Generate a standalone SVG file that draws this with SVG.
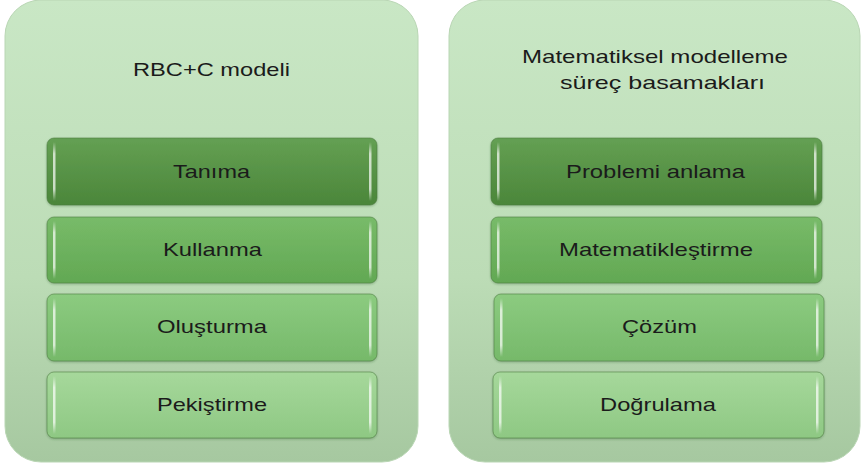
<svg xmlns="http://www.w3.org/2000/svg" width="861" height="468" viewBox="0 0 861 468">
  <defs>
    <linearGradient id="panelFill" x1="0" y1="0" x2="0" y2="1">
      <stop offset="0" stop-color="#c9e7c5"/>
      <stop offset="0.6" stop-color="#bcdcb6"/>
      <stop offset="1" stop-color="#a6c8a0"/>
    </linearGradient>
    <linearGradient id="step1" x1="0" y1="0" x2="0" y2="1">
      <stop offset="0" stop-color="#64a053"/>
      <stop offset="1" stop-color="#4b863a"/>
    </linearGradient>
    <linearGradient id="step2" x1="0" y1="0" x2="0" y2="1">
      <stop offset="0" stop-color="#78bb69"/>
      <stop offset="1" stop-color="#62a853"/>
    </linearGradient>
    <linearGradient id="step3" x1="0" y1="0" x2="0" y2="1">
      <stop offset="0" stop-color="#8ccb80"/>
      <stop offset="1" stop-color="#76b96a"/>
    </linearGradient>
    <linearGradient id="step4" x1="0" y1="0" x2="0" y2="1">
      <stop offset="0" stop-color="#a6d89b"/>
      <stop offset="1" stop-color="#8ec883"/>
    </linearGradient>
    <linearGradient id="shine" x1="0" y1="0" x2="0" y2="1">
      <stop offset="0" stop-color="#ffffff" stop-opacity="0"/>
      <stop offset="0.2" stop-color="#ffffff" stop-opacity="0.7"/>
      <stop offset="0.8" stop-color="#ffffff" stop-opacity="0.7"/>
      <stop offset="1" stop-color="#ffffff" stop-opacity="0"/>
    </linearGradient>
    <filter id="soft" x="-5%" y="-5%" width="110%" height="115%">
      <feDropShadow dx="0" dy="1" stdDeviation="1" flood-color="#2f5a28" flood-opacity="0.35"/>
    </filter>
  </defs>
  <style>
    .panel { fill: url(#panelFill); stroke: #b9d6b4; stroke-width: 1; }
    .step { stroke: #4a7a3e; stroke-opacity: 0.55; stroke-width: 1; filter: url(#soft); }
    .shine { fill: url(#shine); }
    .title, .label { font-family: "Liberation Sans", Arial, sans-serif; fill: #1b1b1b; text-anchor: middle; font-size: 19px; }
  </style>

  <!-- Left column: RBC+C model -->
  <g id="panel-rbcc">
    <rect class="panel" x="5" y="0" width="413" height="462" rx="36"/>
    <text class="title" x="211.5" y="76" textLength="157" lengthAdjust="spacingAndGlyphs">RBC+C modeli</text>
  </g>
  <g id="tanima">
    <rect class="step" x="47" y="138" width="330" height="67" rx="7" fill="url(#step1)"/>
    <rect class="shine" x="53" y="142" width="2.5" height="59"/>
    <rect class="shine" x="369" y="142" width="2.5" height="59"/>
    <text class="label" x="211.5" y="178" textLength="77" lengthAdjust="spacingAndGlyphs">Tanıma</text>
  </g>
  <g id="kullanma">
    <rect class="step" x="47" y="217" width="330" height="66" rx="7" fill="url(#step2)"/>
    <rect class="shine" x="53" y="221" width="2.5" height="58"/>
    <rect class="shine" x="369" y="221" width="2.5" height="58"/>
    <text class="label" x="212.5" y="256" textLength="99" lengthAdjust="spacingAndGlyphs">Kullanma</text>
  </g>
  <g id="olusturma">
    <rect class="step" x="47" y="294" width="330" height="67" rx="7" fill="url(#step3)"/>
    <rect class="shine" x="53" y="298" width="2.5" height="59"/>
    <rect class="shine" x="369" y="298" width="2.5" height="59"/>
    <text class="label" x="212" y="333" textLength="110" lengthAdjust="spacingAndGlyphs">Oluşturma</text>
  </g>
  <g id="pekistirme">
    <rect class="step" x="47" y="372" width="330" height="66" rx="7" fill="url(#step4)"/>
    <rect class="shine" x="53" y="376" width="2.5" height="58"/>
    <rect class="shine" x="369" y="376" width="2.5" height="58"/>
    <text class="label" x="212" y="411" textLength="110" lengthAdjust="spacingAndGlyphs">Pekiştirme</text>
  </g>

  <!-- Right column: mathematical modelling process steps -->
  <g id="panel-modelleme">
    <rect class="panel" x="449" y="0" width="411" height="462" rx="36"/>
    <text class="title" x="655" y="63" textLength="266" lengthAdjust="spacingAndGlyphs">Matematiksel modelleme</text>
    <text class="title" x="662.5" y="89" textLength="205" lengthAdjust="spacingAndGlyphs">süreç basamakları</text>
  </g>
  <g id="problemi-anlama">
    <rect class="step" x="491" y="138" width="331" height="67" rx="7" fill="url(#step1)"/>
    <rect class="shine" x="497" y="142" width="2.5" height="59"/>
    <rect class="shine" x="814" y="142" width="2.5" height="59"/>
    <text class="label" x="655.5" y="178" textLength="179" lengthAdjust="spacingAndGlyphs">Problemi anlama</text>
  </g>
  <g id="matematiklestirme">
    <rect class="step" x="491" y="217" width="331" height="66" rx="7" fill="url(#step2)"/>
    <rect class="shine" x="497" y="221" width="2.5" height="58"/>
    <rect class="shine" x="814" y="221" width="2.5" height="58"/>
    <text class="label" x="656" y="256" textLength="194" lengthAdjust="spacingAndGlyphs">Matematikleştirme</text>
  </g>
  <g id="cozum">
    <rect class="step" x="494" y="294" width="330" height="67" rx="7" fill="url(#step3)"/>
    <rect class="shine" x="500" y="298" width="2.5" height="59"/>
    <rect class="shine" x="816" y="298" width="2.5" height="59"/>
    <text class="label" x="659.5" y="333" textLength="75" lengthAdjust="spacingAndGlyphs">Çözüm</text>
  </g>
  <g id="dogrulama">
    <rect class="step" x="493" y="372" width="331" height="66" rx="7" fill="url(#step4)"/>
    <rect class="shine" x="499" y="376" width="2.5" height="58"/>
    <rect class="shine" x="816" y="376" width="2.5" height="58"/>
    <text class="label" x="658" y="411" textLength="116" lengthAdjust="spacingAndGlyphs">Doğrulama</text>
  </g>

  <!-- No connectors between the steps -->
  <g id="connectors"/>
</svg>
